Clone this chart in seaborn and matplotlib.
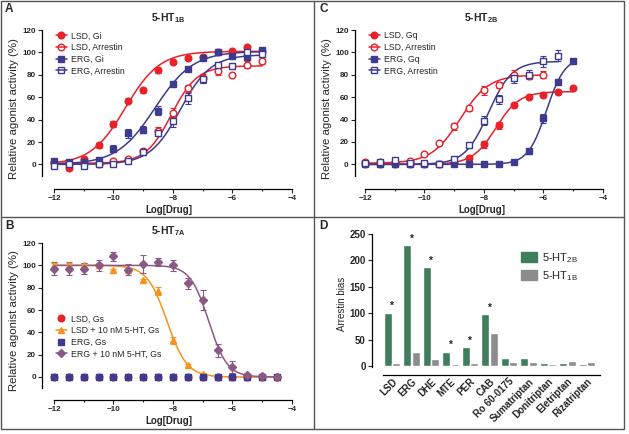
import numpy as np
import pandas as pd
import matplotlib
matplotlib.use('Agg')
import matplotlib.pyplot as plt
from matplotlib.lines import Line2D
from matplotlib.patches import Rectangle, Patch
import seaborn as sns

sns.set_style('white')
plt.rcParams['font.family'] = ['Liberation Sans', 'DejaVu Sans']
plt.rcParams['mathtext.fontset'] = 'custom'
plt.rcParams['mathtext.rm'] = 'Liberation Sans'
plt.rcParams['mathtext.bf'] = 'Liberation Sans:bold'

RED = '#e8212b'
NAVY = '#3c3b8e'
ORANGE = '#f6921e'
MAUVE = '#8a5a86'
GREEN = '#3f7d5c'
GREY = '#8c8c8c'

# ---------- panel A: 5-HT1B ----------
logx_a = [-12, -11.5, -11, -10.5, -10, -9.5, -9, -8.5, -8, -7.5, -7, -6.5, -6, -5.5, -5]
a_lsd_gi = [1.5, -3, 5, 17, 36, 57, 66, 84, 91, 95, 96, 100, 101, 105, 101]
a_lsd_gi_err = [2, 2, 2, 2, 3, 2, 2, 2, 1, 1, 1, 1, 1, 1, 1]
a_lsd_arr = [2, 0, 2, 0, 3, 5, 12, 30, 46, 68, 77, 83, 80, 89, 92]
a_lsd_arr_err = [1, 1, 1, 1, 1, 2, 2, 3, 4, 3, 4, 3, 2, 3, 2]
a_erg_gi = [3, 2, 2, 4, 14, 28, 31, 48, 72, 85, 95, 100, 97, 96, 102]
a_erg_gi_err = [2, 1, 1, 1, 3, 4, 3, 4, 2, 2, 2, 1, 1, 1, 1]
a_erg_arr = [-1, 0, -1, 0, 0, 3, 11, 28, 39, 59, 76, 89, 88, 100, 99]
a_erg_arr_err = [2, 1, 1, 1, 1, 2, 3, 3, 6, 5, 3, 2, 2, 2, 2]
# fitted curves: bottom, top, logEC50, hill
a_fit_lsd_gi = [0, 101, -9.6, 0.75]
a_fit_lsd_arr = [1, 88, -8.05, 1.0]
a_fit_erg_gi = [0, 101, -8.6, 0.68]
a_fit_erg_arr = [0, 98, -7.75, 0.85]

# ---------- panel C: 5-HT2B ----------
logx_c = [-12, -11.5, -11, -10.5, -10, -9.5, -9, -8.5, -8, -7.5, -7, -6.5, -6, -5.5, -5]
c_lsd_gq = [0, 0, 0, 0, 0, 0, 1, 6, 18, 35, 53, 60, 62, 65, 68]
c_lsd_gq_err = [1, 1, 1, 1, 1, 1, 1, 1, 3, 3, 2, 1, 1, 1, 1]
c_lsd_arr = [2, 2, 2, 3, 9, 19, 34, 50, 66, 71, 80, 79, 80, np.nan, np.nan]
c_lsd_arr_err = [1, 1, 1, 1, 1, 1, 3, 2, 4, 3, 4, 3, 3, np.nan, np.nan]
c_erg_gq = [0, 0, 0, 0, 0, 0, 0, 0, 0, 0, 2, 12, 41, 74, 92]
c_erg_gq_err = [1, 1, 1, 1, 1, 1, 1, 1, 1, 1, 1, 3, 4, 2, 1]
c_erg_arr = [1, 2, 4, 1, 1, 0, 5, 17, 39, 58, 77, 80, 92, 97, np.nan]
c_erg_arr_err = [1, 1, 1, 1, 1, 1, 2, 2, 4, 4, 4, 4, 5, 5, np.nan]
c_fit_lsd_gq = [0, 65, -7.6, 1.1]
c_fit_lsd_arr = [1, 80, -8.8, 0.9]
c_fit_erg_gq = [0, 96, -5.9, 1.4]
c_fit_erg_arr = [0, 92, -7.85, 1.1]

# ---------- panel B: 5-HT7A ----------
logx_b = [-12, -11.5, -11, -10.5, -10, -9.5, -9, -8.5, -8, -7.5, -7, -6.5, -6, -5.5, -5, -4.5]
b_lsd_gs = [0] * 16
b_erg_gs = [0] * 16
b_lsd_5ht = [100, 100, 100, 100, 96, 96, 87, 77, 33, 11, 3, 0, 0, 0, 0, 0]
b_lsd_5ht_err = [2, 2, 2, 2, 1, 2, 1, 4, 3, 1, 1, 1, 1, 1, 1, 1]
b_erg_5ht = [97, 97, 97, 100, 108, 96, 101, 103, 100, 84, 69, 24, 9, 2, 1, 0]
b_erg_5ht_err = [6, 6, 5, 5, 4, 5, 8, 4, 5, 5, 9, 6, 5, 2, 2, 1]
b_fit_lsd_5ht = [0, 100, -8.2, -1.3]
b_fit_erg_5ht = [0, 100, -6.8, -1.4]

# ---------- panel D: arrestin bias ----------
drugs = ['LSD', 'ERG', 'DHE', 'MTE', 'PER', 'CAB', 'Ro 60-0175', 'Sumatriptan',
         'Donitriptan', 'Eletriptan', 'Rizatriptan']
bias_2b = [101, 229, 187, 27, 36, 98, 15, 15, 5, 5, 3]
bias_1b = [6, 26, 13, 3, 5, 63, 8, 8, 4, 9, 7]
significant = [True, True, True, True, True, True, False, False, False, False, False]


def hill(x, p):
    bottom, top, logec, h = p
    return bottom + (top - bottom) / (1 + 10 ** ((logec - x) * h))


W, H = 629, 434
fig = plt.figure(figsize=(W / 100, H / 100), dpi=100)


def px_axes(x0, x1, ytop, ybot):
    return fig.add_axes([x0 / W, 1 - ybot / H, (x1 - x0) / W, (ybot - ytop) / H])


def style_curve_axes(ax, xlim, ylim, title):
    ax.set_xlim(*xlim)
    ax.set_ylim(*ylim)
    ax.spines['top'].set_visible(False)
    ax.spines['right'].set_visible(False)
    ax.spines['left'].set_bounds(-10, 120)
    ax.spines['bottom'].set_bounds(-12, -4)
    for s in ('left', 'bottom'):
        ax.spines[s].set_color('black')
        ax.spines[s].set_linewidth(0.9)
    ax.set_xticks([-12, -10, -8, -6, -4])
    ax.set_xticks([-11, -9, -7, -5], minor=True)
    ax.set_yticks([0, 20, 40, 60, 80, 100, 120])
    ax.tick_params(axis='both', direction='out', length=3, width=0.8, pad=1.5,
                   left=True, bottom=True, labelsize=5.8)
    ax.tick_params(axis='x', which='minor', direction='out', length=1.6, width=0.8, bottom=True)
    for lab in ax.get_xticklabels() + ax.get_yticklabels():
        lab.set_fontweight('bold')
    ax.set_xlabel('Log[Drug]', fontsize=7, fontweight='bold', labelpad=2)
    ax.set_ylabel('Relative agonist activity (%)', fontsize=8.2, labelpad=2)
    ax.set_title(title, fontsize=7.5, fontweight='bold', pad=5)
    ax.patch.set_alpha(0)


def draw_series(ax, x, y, err, color, marker, filled, fit=None, xr=(-12, -5), ms=4.8):
    if fit is not None:
        xf = np.linspace(xr[0], xr[1], 300)
        sns.lineplot(x=xf, y=hill(xf, fit), color=color, lw=1.1, ax=ax)
    x = np.asarray(x, float)
    y = np.asarray(y, float)
    if err is not None:
        ax.errorbar(x, y, yerr=err, fmt='none', ecolor=color, elinewidth=0.8,
                    capsize=2.2, capthick=0.8, zorder=3)
    ax.plot(x, y, ls='none', marker=marker, ms=ms, color=color,
            mfc=color if filled else 'white', mew=1.0, zorder=4)


def handle(color, marker, filled, line=True, ms=4.8):
    return Line2D([], [], color=color, lw=1.1 if line else 0, marker=marker, ms=ms,
                  mfc=color if filled else 'none', mew=1.0)


LEG = dict(frameon=False, fontsize=6.3, handlelength=1.3, handletextpad=0.5,
           labelspacing=0.3, borderaxespad=0)

# Panel A
ax = px_axes(42, 295, 28, 188.5)
style_curve_axes(ax, (-12.40, -3.90), (-21.5, 121.8), r'5-HT$_{\mathbf{1B}}$')
draw_series(ax, logx_a, a_lsd_gi, a_lsd_gi_err, RED, 'o', True, a_fit_lsd_gi)
draw_series(ax, logx_a, a_lsd_arr, a_lsd_arr_err, RED, 'o', False, a_fit_lsd_arr)
draw_series(ax, logx_a, a_erg_gi, a_erg_gi_err, NAVY, 's', True, a_fit_erg_gi)
draw_series(ax, logx_a, a_erg_arr, a_erg_arr_err, NAVY, 's', False, a_fit_erg_arr)
ax.legend([handle(RED, 'o', True), handle(RED, 'o', False), handle(NAVY, 's', True),
           handle(NAVY, 's', False)],
          ['LSD, Gi', 'LSD, Arrestin', 'ERG, Gi', 'ERG, Arrestin'],
          loc='upper left', bbox_to_anchor=(0.04, 1.0), **LEG)

# Panel C
ax = px_axes(355, 608, 28, 189)
style_curve_axes(ax, (-12.336, -3.83), (-22.0, 121.8), r'5-HT$_{\mathbf{2B}}$')
draw_series(ax, logx_c, c_lsd_gq, c_lsd_gq_err, RED, 'o', True, c_fit_lsd_gq)
draw_series(ax, logx_c, c_lsd_arr, c_lsd_arr_err, RED, 'o', False, c_fit_lsd_arr, xr=(-12, -6))
draw_series(ax, logx_c, c_erg_gq, c_erg_gq_err, NAVY, 's', True, c_fit_erg_gq)
draw_series(ax, logx_c, c_erg_arr, c_erg_arr_err, NAVY, 's', False, c_fit_erg_arr, xr=(-12, -5.5))
ax.legend([handle(RED, 'o', True), handle(RED, 'o', False), handle(NAVY, 's', True),
           handle(NAVY, 's', False)],
          ['LSD, Gq', 'LSD, Arrestin', 'ERG, Gq', 'ERG, Arrestin'],
          loc='upper left', bbox_to_anchor=(0.04, 1.0), **LEG)

# Panel B
ax = px_axes(42, 295, 241, 400)
style_curve_axes(ax, (-12.40, -3.90), (-20.6, 121.8), r'5-HT$_{\mathbf{7A}}$')
draw_series(ax, logx_b, b_lsd_gs, None, RED, 'o', True)
draw_series(ax, logx_b, b_lsd_5ht, b_lsd_5ht_err, ORANGE, '^', True, b_fit_lsd_5ht, xr=(-12, -4.5))
draw_series(ax, logx_b, b_erg_gs, None, NAVY, 's', True)
draw_series(ax, logx_b, b_erg_5ht, b_erg_5ht_err, MAUVE, 'D', True, b_fit_erg_5ht, xr=(-12, -4.5), ms=4.2)
ax.legend([handle(RED, 'o', True, False), handle(ORANGE, '^', True),
           handle(NAVY, 's', True, False), handle(MAUVE, 'D', True, ms=4.2)],
          ['LSD, Gs', 'LSD + 10 nM 5-HT, Gs', 'ERG, Gs', 'ERG + 10 nM 5-HT, Gs'],
          loc='upper left', bbox_to_anchor=(0.04, 0.56), **LEG)

# Panel D
ax = px_axes(372, 602, 232, 375)
df_d = pd.DataFrame({
    'drug': drugs * 2,
    'bias': bias_2b + bias_1b,
    'receptor': ['2B'] * len(drugs) + ['1B'] * len(drugs),
})
sns.barplot(data=df_d, x='drug', y='bias', hue='receptor', order=drugs,
            hue_order=['2B', '1B'], palette=[GREEN, GREY], width=0.86, gap=0.05,
            saturation=1, legend=False, ax=ax)
for i, (v, sig) in enumerate(zip(bias_2b, significant)):
    if sig:
        ax.text(i - 0.05, v + 3, '*', ha='center', va='bottom', fontsize=7.5, fontweight='bold')
ax.set_xlim(-1.03, 10.77)
ax.set_ylim(-17, 253.8)
ax.spines['top'].set_visible(False)
ax.spines['right'].set_visible(False)
ax.spines['left'].set_bounds(-2, 250)
ax.spines['bottom'].set_bounds(-0.46, 10.67)
for s in ('left', 'bottom'):
    ax.spines[s].set_color('black')
    ax.spines[s].set_linewidth(0.9)
ax.set_yticks([0, 50, 100, 150, 200, 250])
ax.tick_params(axis='y', direction='out', length=3, width=0.8, pad=1.5, left=True, labelsize=7)
ax.tick_params(axis='x', length=0, pad=1, labelsize=7)
ax.set_xticks(range(len(drugs)))
ax.set_xticklabels(drugs, rotation=45, ha='right', rotation_mode='anchor', fontweight='bold')
for lab in ax.get_yticklabels():
    lab.set_fontweight('bold')
ax.set_xlabel('')
ax.set_ylabel('Arrestin bias', fontsize=7, labelpad=2)
ax.legend([Patch(color=GREEN), Patch(color=GREY)],
          [r'5-HT$_{\mathregular{2B}}$', r'5-HT$_{\mathregular{1B}}$'],
          loc='upper left', bbox_to_anchor=(0.63, 0.9), frameon=False, fontsize=8,
          handlelength=1.4, handleheight=1.0, handletextpad=0.5, labelspacing=0.4,
          borderaxespad=0)

# panel frames and letters
fig.add_artist(Rectangle((1 / W, 1 - 429 / H), 623 / W, 428 / H, transform=fig.transFigure,
                         fill=False, ec='#555555', lw=1.0))
fig.add_artist(Line2D([314 / W, 314 / W], [1 - 429 / H, 1 - 1 / H], transform=fig.transFigure,
                      color='#555555', lw=1.0))
fig.add_artist(Line2D([1 / W, 624 / W], [1 - 217 / H, 1 - 217 / H], transform=fig.transFigure,
                      color='#555555', lw=1.0))
for letter, x, y in [('A', 5, 3), ('C', 319, 3), ('B', 5, 220), ('D', 319, 220)]:
    fig.text(x / W, 1 - y / H, letter, fontsize=8.5, fontweight='bold', va='top', ha='left')

fig.savefig('out.png', dpi=100)
